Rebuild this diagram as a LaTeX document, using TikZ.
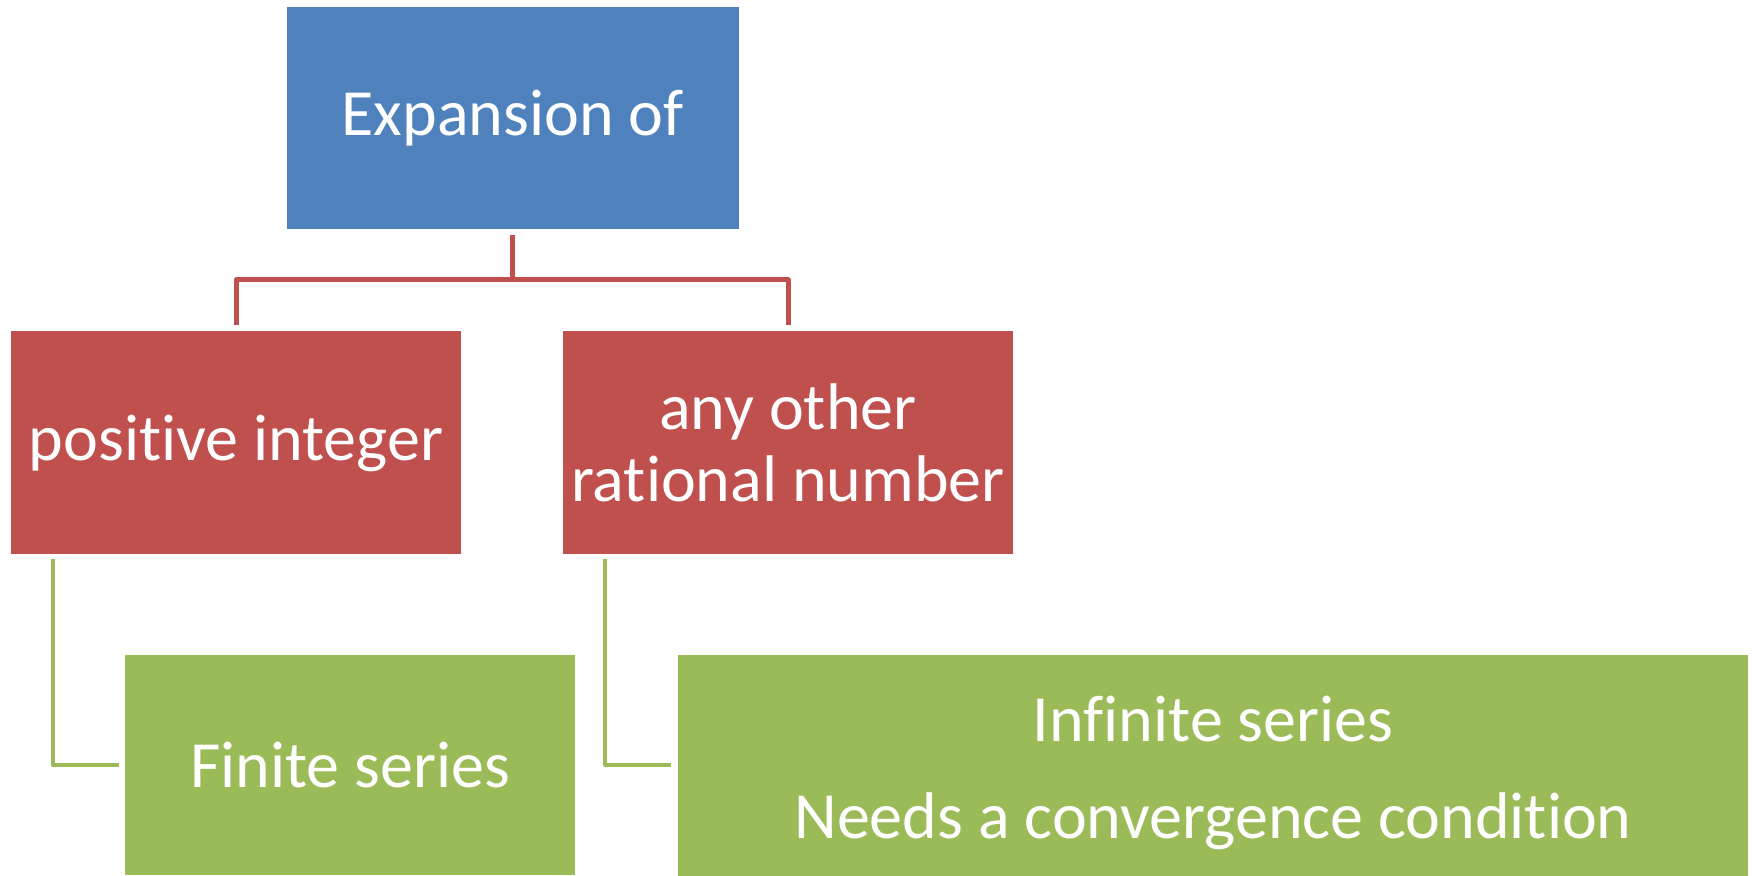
\documentclass[tikz,border=0pt]{standalone}
\usepackage{fontspec}
\setmainfont{Carlito}[Ligatures=NoCommon]
\definecolor{oblue}{HTML}{4F81BD}
\definecolor{ored}{HTML}{C0504D}
\definecolor{ogreen}{HTML}{9BBB59}
\begin{document}
\begin{tikzpicture}[x=1pt,y=1pt,
  boxbase/.style={rectangle,inner sep=0pt,text=white,align=center,
    font=\fontsize{66}{72}\selectfont},
  bluebox/.style={boxbase,fill=oblue,minimum width=451.5pt,minimum height=222.5pt},
  redbox/.style={boxbase,fill=ored,minimum width=450pt,minimum height=223pt},
  greenbox/.style={boxbase,fill=ogreen},
  redline/.style={draw=ored,line width=5pt,line join=round},
  greenline/.style={draw=ogreen,line width=4pt,line join=round}]
\useasboundingbox (0,0) rectangle (1752,875);
\node[bluebox,text depth=10pt] (top) at (512.75,756.75) {Expansion of};
\node[redbox,text depth=10pt] (redL) at (236,432.5) {positive integer};
\node[redbox] (redR) at (788,432.5) {any other\\rational number};
\node[greenbox,minimum width=450pt,minimum height=220pt] (grnL) at (350,110) {Finite series};
\node[greenbox,minimum width=1070pt,minimum height=236pt] (grnR) at (1213,102) {Infinite series\\[25pt]Needs a convergence condition};
\coordinate (bar) at (512.75,595);
\draw[redline] ([yshift=-5.5pt]top.south) -- (bar);
\draw[redline] ([yshift=6pt]redL.north) |- (bar) -| ([yshift=6pt]redR.north);
\draw[greenline] ([xshift=42pt,yshift=-5pt]redL.south west) |- ([xshift=-5.5pt]grnL.west);
\draw[greenline] ([xshift=42.6pt,yshift=-5pt]redR.south west) |- ([xshift=-6.5pt,yshift=8pt]grnR.west);
\end{tikzpicture}
\end{document}
